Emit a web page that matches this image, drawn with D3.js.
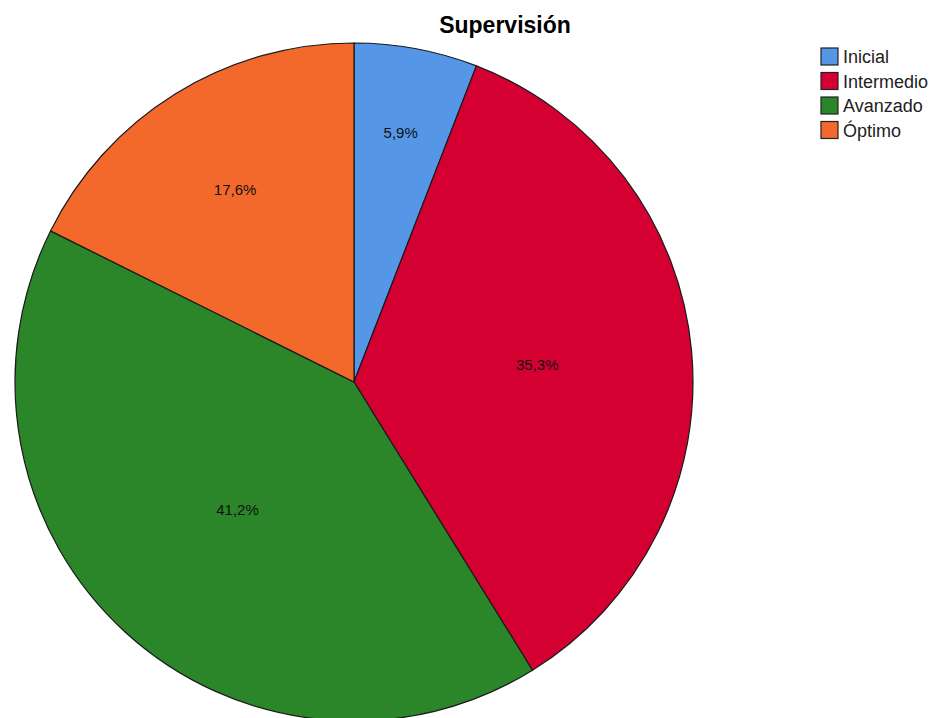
<!DOCTYPE html>
<html>
<head>
<meta charset="utf-8">
<script src="https://cdn.jsdelivr.net/npm/d3@7"></script>
<style>
  body { margin: 0; background: #fff; }
  svg { display: block; font-family: "Liberation Sans", Arial, sans-serif; }
</style>
</head>
<body>
<div id="chart"></div>
<script>
// datos (frecuencias por nivel)
const categories = ['Inicial', 'Intermedio', 'Avanzado', 'Óptimo'];
const counts = [1, 6, 7, 3];
const colors = ['#5596e6', '#d50032', '#2a8629', '#f3692c'];
const chartTitle = 'Supervisión';

const width = 939, height = 718;
const cx = 354, cy = 382, radius = 339;

const svg = d3.select('#chart').append('svg')
  .attr('width', width)
  .attr('height', height);

svg.append('text')
  .attr('x', 505)
  .attr('y', 33)
  .attr('text-anchor', 'middle')
  .attr('font-weight', 'bold')
  .attr('font-size', 23)
  .text(chartTitle);

const total = d3.sum(counts);
const pie = d3.pie().sort(null).value(d => d.v);
const arcs = pie(categories.map((c, i) => ({ c, v: counts[i], color: colors[i] })));
const arc = d3.arc().innerRadius(0).outerRadius(radius);

const g = svg.append('g').attr('transform', `translate(${cx},${cy})`);
g.selectAll('path').data(arcs).enter().append('path')
  .attr('d', arc)
  .attr('fill', d => d.data.color)
  .attr('stroke', '#1a1a1a')
  .attr('stroke-width', 1.2);

// etiquetas: las porciones pequeñas se colocan más afuera
const fmt = v => (v * 100).toFixed(1).replace('.', ',') + '%';
g.selectAll('text.lbl').data(arcs).enter().append('text')
  .attr('class', 'lbl')
  .attr('transform', d => {
    const share = d.data.v / total;
    const r = radius * (0.51 + 0.28 * Math.max(0, 1 - share / 0.4));
    const a = (d.startAngle + d.endAngle) / 2;
    return `translate(${Math.sin(a) * r},${-Math.cos(a) * r})`;
  })
  .attr('text-anchor', 'middle')
  .attr('dy', '0.35em')
  .attr('font-size', 15)
  .attr('fill', '#111')
  .text(d => fmt(d.data.v / total));

// leyenda
const legend = svg.append('g').attr('transform', 'translate(821,48)');
const rows = legend.selectAll('g').data(categories).enter().append('g')
  .attr('transform', (d, i) => `translate(0,${i * 24.5})`);
rows.append('rect')
  .attr('width', 17).attr('height', 17)
  .attr('fill', (d, i) => colors[i])
  .attr('stroke', '#222')
  .attr('stroke-width', 1.2);
rows.append('text')
  .attr('x', 22)
  .attr('y', 9)
  .attr('dy', '0.35em')
  .attr('font-size', 18)
  .attr('fill', '#222')
  .text(d => d);
</script>
</body>
</html>
